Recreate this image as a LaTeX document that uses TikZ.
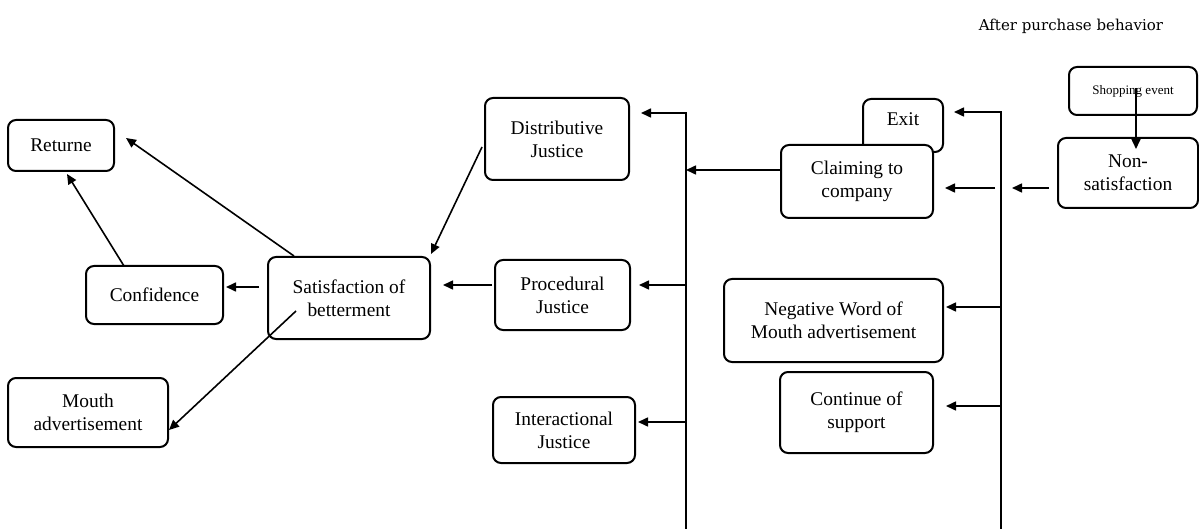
\documentclass[tikz,border=0pt]{standalone}
\usepackage{fontspec}
\setmainfont{Liberation Serif}
\newfontfamily\titlefont{DejaVu Serif}
\usetikzlibrary{arrows.meta, calc}
\tikzset{
  box/.style={draw, rounded corners=4pt, line width=1pt, fill=white, align=center,
    inner sep=0pt, font=\fontsize{9.7}{11.5}\selectfont},
  arr/.style={-{Triangle[length=5pt,width=4.5pt]}, line width=0.8pt},
  bus/.style={line width=1pt}
}

\begin{document}
\begin{tikzpicture}[x=0.5pt, y=-0.5pt]
  \useasboundingbox (0,0) rectangle (1199,529);
  \node[font=\titlefont\fontsize{7.5}{9}\selectfont] (title) at (1071,26) {After purchase behavior};
  % Ergebnisse links
  \node[box, minimum width=53pt, minimum height=25.5pt] (ret) at (61,145.5) {Returne};
  \node[box, minimum width=68.5pt, minimum height=29pt] (conf) at (154.5,295) {Confidence};
  \node[box, minimum width=81pt, minimum height=41pt] (sat) at (349,298) {Satisfaction of\\betterment};
  \node[box, minimum width=80pt, minimum height=34.5pt] (mouth) at (88,412.5) {Mouth\\advertisement};
  % Gerechtigkeit
  \node[box, minimum width=72pt, minimum height=41pt] (dist) at (557,139) {Distributive\\Justice};
  \node[box, minimum width=67.5pt, minimum height=35pt] (proc) at (562.5,295) {Procedural\\Justice};
  \node[box, minimum width=71pt, minimum height=33pt] (inter) at (564,430) {Interactional\\Justice};
  % Reaktionen
  \node[box, minimum width=40pt, minimum height=26.5pt, text depth=6pt] (exit) at (903,125.5) {Exit};
  \node[box, minimum width=76pt, minimum height=36.5pt] (claim) at (857,181.5) {Claiming to\\company};
  \node[box, minimum width=109.5pt, minimum height=41.5pt] (neg) at (833.5,320.5) {Negative Word of\\Mouth advertisement};
  \node[box, minimum width=76.5pt, minimum height=40.5pt] (cont) at (856.5,412.5) {Continue of\\support};
  % Ausgangspunkt
  \node[box, minimum width=64pt, minimum height=24pt, font=\fontsize{6.5}{8}\selectfont] (shop) at (1133,91) {Shopping event};
  \node[box, minimum width=70pt, minimum height=35pt] (non) at (1128,173) {Non-\\satisfaction};
  % Sammelleitungen
  \coordinate (lTop) at (686,113);
  \coordinate (lBot) at (686,529);
  \coordinate (lClaim) at (686,170);
  \coordinate (lProc) at (686,285);
  \coordinate (lInter) at (686,422);
  \coordinate (rTop) at (1001,112);
  \coordinate (rBot) at (1001,529);
  \coordinate (rNeg) at (1001,307);
  \coordinate (rCont) at (1001,406);
  \coordinate (cIn) at (995,188);
  \coordinate (nOut) at (1012,188);
  \draw[bus, arr, shorten >=5.5pt] (lBot) -- (lTop) -- (lTop -| dist.east);
  \draw[arr, shorten >=4pt] (lProc) -- (lProc -| proc.east);
  \draw[arr, shorten >=1pt] (lInter) -- (lInter -| inter.east);
  \draw[arr] (claim.west |- lClaim) -- (lClaim);
  \draw[bus, arr, shorten >=5pt] (rBot) -- (rTop) -- (rTop -| exit.east);
  \draw[arr, shorten >=1pt] (rNeg) -- (rNeg -| neg.east);
  \draw[arr, shorten >=6pt] (rCont) -- (rCont -| cont.east);
  \draw[arr, shorten >=5.5pt] (cIn) -- (cIn -| claim.east);
  \draw[arr, shorten <=4pt] (non.west |- nOut) -- (nOut);
  \draw[arr] ($(shop.center)+(3,-3)$) -- ($(non.north)+(8,12)$);
  % Pfeile links
  \draw[arr] ($(dist.west)+(-2,8)$) -- ($(sat.north east)+(0,-2)$);
  \draw[arr] ($(proc.west)+(-2,-10)$) -- ($(sat.east)+(12,-13)$);
  \draw[arr, shorten <=4pt, shorten >=1pt] ($(sat.west)+(0,-11)$) -- ($(conf.east)+(0,-8)$);
  \draw[arr] ($(sat.north west)+(27,0)$) -- ($(ret.east)+(11,-7.5)$);
  \draw[arr] ($(conf.north west)+(39,1)$) -- ($(ret.south)+(6,2)$);
  \draw[arr] ($(sat.west)+(29,13)$) -- ($(mouth.east)+(0,17.5)$);
\end{tikzpicture}
\end{document}
